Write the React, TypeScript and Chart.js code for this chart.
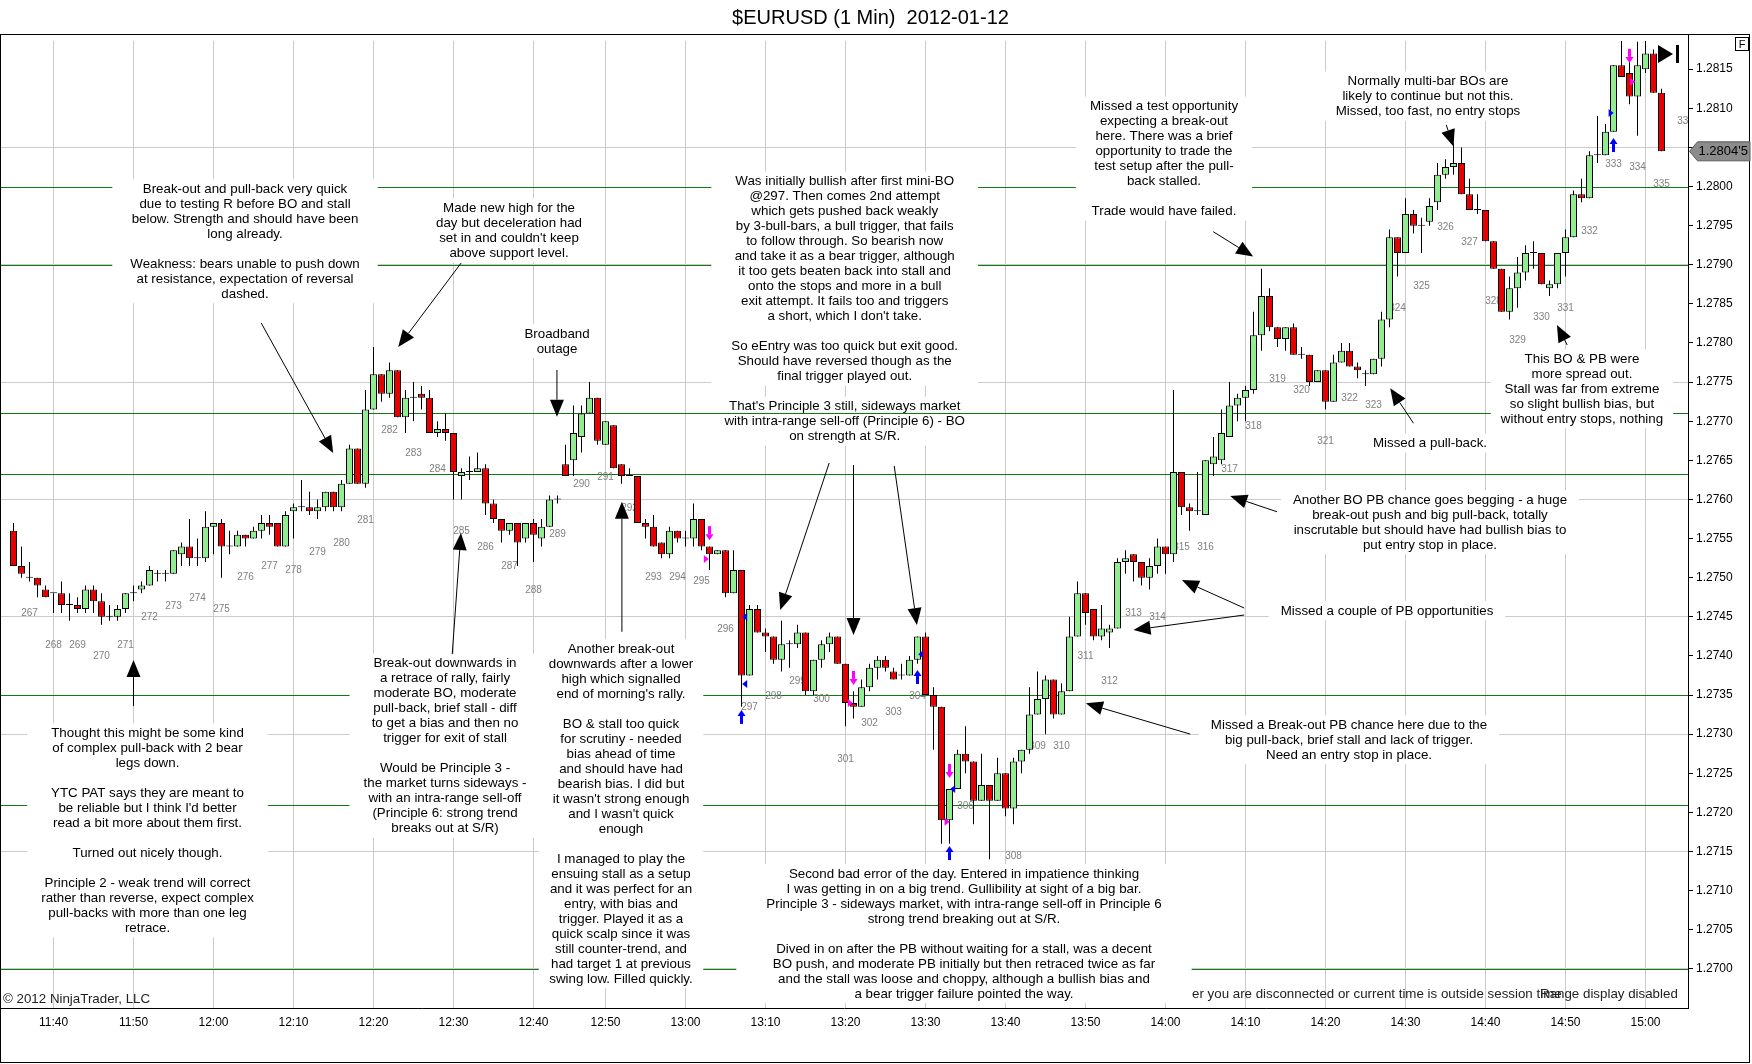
import React, { useEffect, useRef } from 'react';
import { Chart, registerables } from 'chart.js';

Chart.register(...registerables);

const FONT = '"Liberation Sans", Arial, Helvetica, sans-serif';
const TITLE = '$EURUSD (1 Min)  2012-01-12';

const PRICE_BASE = 1.27;

// one-minute bars, 11:35 .. 15:02 (one minute missing during the broadband outage)
const opens = [56,51.5,50,50,48.5,48,48,46.5,46.5,46,
48.5,47,45,45,46,48,48.5,49,50.5,50.5,
50.5,53,54,52.5,52.5,56.5,57,54,54,55.5,
55,56,57,57,54,58.5,59,59,58.5,59,
61,59,62,66.5,62,71.5,76,73.5,76.5,70.5,
73,73.5,73,68.5,69,68.5,63,63.5,63.5,64,
59.5,57.5,56,57,55,57,55,56.5,60,64.5,
65,68,71,73,67,69.5,64.5,63,63,57,
56.5,54.5,53,56,55,55,57.5,54,53,53.5,
48,51,37.5,46,43,42.5,39.5,41.5,41.5,43,
35.5,39.5,41.5,42.5,39,34,33.5,36,38.5,39.5,
38,37.5,37.5,39.5,42.5,35,33.5,19,23,27.5,
26.5,21.5,23.5,21.5,25,20.5,26.5,28,32.5,34.5,
37,32.5,35.5,42.5,48,46,42.5,43,43.5,52,
53,52,50,51.5,54,53,63.5,59,58.5,58,
64.5,65,68,72,73,74,81,86,82,80.5,
82,78.5,78.5,75,76.5,72.5,77.5,79,77,76,
76,78,83,93.5,91.5,96.5,95,95.5,98,101.5,
102.5,103,99,97,97,93,89.5,84,87,89,
91.5,91.5,87,87.5,91.5,93.5,99,98.5,104,104,
107,115.5,114.5,111.5,115,117,112];

const highs = [57,54,52,50,49,48,49.5,48,47.5,49,
49,48,46.5,46.5,48,49,49.5,51.5,51,51,
53.5,54.5,57.5,55,58.5,57,57.5,56,56,55.5,
56.5,58,58,57,58.5,59.5,62.5,61,60,61,
61,62.5,67,66.5,74,79.5,76,77.5,76.5,74,
75,74.5,74,70,71,68.5,64,65.5,66,64.5,
60,57.5,57,57,57,57.5,57.5,60.5,60.5,67,
72,72,75,73,70,69.5,64.5,64,63,57.5,
58,54.5,56.5,56,56,59.5,57.5,54,53.5,53.5,
53.5,51,46.5,46.5,43.5,42.5,44.5,42,44,43,
39.5,42,43,42.5,39,35.5,37,39,40,40,
38.5,39,40,42.5,43,36,33.5,23,28,31,
26.5,27.5,23.5,27,25,27,28,36,38,37.5,
37,36.5,45,49.5,48,46,46.5,44,52.5,53.5,
53,52,52.5,55,54,74,63.5,59.5,63.5,65,
68,71.5,75,73.5,74.5,84,89.5,87,82,82,
82.5,79.5,78.5,76.5,76.5,78.5,80,80,77.5,76.5,
78,84,94.5,93.5,98.5,97,96,98.5,103,103.5,
105.5,105,101,99,97,93,89.5,88.5,91,92.5,
93,91.5,88,91.5,94.5,99.5,101,104.5,109,108,
115.5,119,116,118.5,119,117.5,112.5];

const lows = [51.5,50,49.5,47.5,47.5,45.5,45.5,44.5,45.5,45.5,
45.5,44,44.5,44.5,45.5,47,48,49,49.5,49.5,
50.5,51.5,51.5,51.5,52,53,50,53,54,54,
55,55,55.5,54,54,55,58.5,58,57.5,58.5,
58.5,58.5,62,62,61.5,71.5,72.5,73,70.5,68.5,
70,71.5,68.5,68,67.5,60,60,62.5,63.5,58,
57,54.5,55.5,51.5,54.5,52,54,56.5,59.5,63,
63,66,71,67,67,64,62,63,57,55,
54,52.5,52.5,54.5,54,54,53.5,51,53,47.5,
48,33.5,37.5,43,40.5,39,38,38.5,41,35,
35,38.5,40.5,39,31,32,33.5,35.5,37,38,
37,37,37.5,39,35,28,16,16,23,25,
18.5,21.5,14,21.5,19.5,18.5,25,27.5,32.5,30,
32,32.5,35.5,42.5,44,42,42,41,43.5,50.5,
49.5,49,48.5,50.5,50.5,52,58,56,58,58,
63,64.5,68,70,70,73.5,79,81.5,79.5,79,
78.5,78,74.5,75,71.5,72.5,77.5,77,75.5,74.5,
76,77,82,88.5,91.5,94,91.5,95,97,101,
101.5,99,97,96.5,93,89.5,84,83,84.5,88,
89.5,87.5,86,87,88.5,93.5,98,98.5,103,104,
107,114,110.5,106.5,114.5,112,104.5];

const closes = [51.5,50.5,50,49,47.5,48,46.5,46.5,46,48.5,
47,45,45,46,48,48,49,51,50.5,50.5,
53.5,54,52.5,52.5,56.5,57,54,54,55.5,55,
56,57,56.5,54,58,59,59,58.5,59,61,
59,62,66.5,62,71.5,76,73.5,76.5,70.5,73,
73,73,68.5,69,68.5,63.5,63.5,63.5,64,59.5,
57.5,56,57,54.5,57,55.5,56.5,60,60,63,
68.5,71,73,67.5,70,64,63,63,57,56.5,
54,53,56,55,55,57.5,54,53,53.5,48,
51,37.5,46,43,42.5,39.5,41.5,41.5,43,35.5,
39.5,41.5,42.5,39,34,33.5,36,38.5,39.5,38.5,
37,37.5,39.5,42.5,35,33.5,19,23,27.5,26.5,
21.5,23.5,21.5,25,20.5,26.5,28,32.5,34.5,37,
32.5,35.5,42.5,48,45.5,42.5,43.5,43.5,52,52.5,
52,50,51.5,54,53,63.5,59,58.5,58.5,65,
65.5,68.5,72,73,74,81,86,82,80.5,82,
78.5,78.5,75,76.5,72.5,77.5,79,77,76.5,76,
78,83,93.5,91.5,96.5,95,95,97.5,101.5,102.5,
103,99,97,97,93,89.5,84,87,89,91.5,
91.5,87.5,87.5,91.5,93.5,99,98.5,104,104,107,
115.5,114,111.5,115.5,117,112,104.5];

// time axis (bar index -> label)
const timeTickBars = [5, 15, 25, 35, 45, 55, 65, 74, 84, 94, 104, 114, 124, 134, 144, 154, 164, 174, 184, 194, 204];
const timeTickLabels = ['11:40', '11:50', '12:00', '12:10', '12:20', '12:30', '12:40', '12:50', '13:00', '13:10', '13:20',
  '13:30', '13:40', '13:50', '14:00', '14:10', '14:20', '14:30', '14:40', '14:50', '15:00'];

// price axis labels
const priceTicks = [1.2700, 1.2705, 1.2710, 1.2715, 1.2720, 1.2725, 1.2730, 1.2735, 1.2740, 1.2745, 1.2750, 1.2755,
  1.2760, 1.2765, 1.2770, 1.2775, 1.2780, 1.2785, 1.2790, 1.2795, 1.2800, 1.2805, 1.2810, 1.2815];

// horizontal support / resistance lines (green)
const levelPrices = [1.2800, 1.2790, 1.2771, 1.27633, 1.2735, 1.2721, 1.2700];

// bar count labels 267 .. 336 every third bar, price (pips) where each label sits
const firstBarLabel = 267;
const barLabelPips = [45.4, 41.4, 41.4, 39.9, 41.4, 45.0, 46.3, 47.4, 46.0, 50.0,
  51.4, 51.0, 53.3, 54.4, 57.4, 68.9, 65.9, 63.9, 56.0, 53.9,
  51.4, 48.4, 55.5, 62.0, 62.9, 58.9, 50.0, 50.0, 49.5, 43.4,
  33.5, 34.9, 36.8, 34.5, 26.8, 31.4, 32.8, 34.9, 12.2, 20.8,
  11.3, 14.4, 28.4, 28.4, 39.9, 36.8, 45.5, 45.0, 53.9, 53.9,
  63.9, 69.4, 75.4, 74.0, 67.4, 73.0, 72.0, 84.5, 87.3, 94.8,
  92.9, 85.3, 80.3, 83.3, 84.5, 94.3, 102.9, 102.4, 100.3, 108.3];

// trade markers
const entryArrowBars = [91, 113, 117, 200];
const entryArrowPips = [33.1, 38.2, 15.7, 106.2];
const exitArrowBars = [87, 105, 117, 202];
const exitArrowPips = [54.8, 36.3, 24.4, 115.8];
const fillMarkX = [86.6, 104.6, 116.7, 202.4, 91.4, 91.4, 113.4, 117.4, 199.7];
const fillMarkPips = [52.4, 34.0, 18.8, 113.4, 45.0, 36.4, 40.2, 23.0, 109.4];
const fillMarkKind = ['sell', 'sell', 'sell', 'sell', 'buy', 'buy', 'buy', 'buy', 'buyR'];

// text notes: anchor = centre x (bar units) and first line (pips)
const notes = [
  { x: 28.94, p: 99.66, pad: 18, lines: ['Break-out and pull-back very quick', 'due to testing R before BO and stall', 'below. Strength and should have been', 'long already.', '', 'Weakness: bears unable to push down', 'at resistance, expectation of reversal', 'dashed.'] },
  { x: 61.94, p: 97.23, pad: 14, lines: ['Made new high for the', 'day but deceleration had', "set in and couldn't keep", 'above support level.'] },
  { x: 67.94, p: 81.12, pad: 10, lines: ['Broadband', 'outage'] },
  { x: 103.9, p: 100.63, pad: 20, lines: ['Was initially bullish after first mini-BO', '@297. Then comes 2nd attempt', 'which gets pushed back weakly', 'by 3-bull-bars, a bull trigger, that fails', 'to follow through. So bearish now', 'and take it as a bear trigger, although', 'it too gets beaten back into stall and', 'onto the stops and more in a bull', 'exit attempt. It fails too and triggers', "a short, which I don't take.", '', 'So eEntry was too quick but exit good.', 'Should have reversed though as the', 'final trigger played out.'] },
  { x: 103.9, p: 71.86, pad: 20, under: true, lines: ["That's Principle 3 still, sideways market", 'with intra-range sell-off (Principle 6) - BO', 'on strength at S/R.'] },
  { x: 143.81, p: 110.22, pad: 14, lines: ['Missed a test opportunity', 'expecting a break-out', 'here. There was a brief', 'opportunity to trade the', 'test setup after the pull-', 'back stalled.', '', 'Trade would have failed.'] },
  { x: 176.81, p: 113.41, pad: 12, lines: ['Normally multi-bar BOs are', 'likely to continue but not this.', 'Missed, too fast, no entry stops'] },
  { x: 196.06, p: 77.92, pad: 10, lines: ['This BO & PB were', 'more spread out.', 'Stall was far from extreme', 'so slight bullish bias, but', 'without entry stops, nothing'] },
  { x: 177.06, p: 67.15, pad: 12, lines: ['Missed a pull-back.'] },
  { x: 177.06, p: 59.93, pad: 12, lines: ['Another BO PB chance goes begging - a huge', 'break-out push and big pull-back, totally', 'inscrutable but should have had bullish bias to', 'put entry stop in place.'] },
  { x: 171.69, p: 45.74, pad: 12, lines: ['Missed a couple of PB opportunities'] },
  { x: 166.94, p: 31.16, pad: 12, lines: ['Missed a Break-out PB chance here due to the', 'big pull-back, brief stall and lack of trigger.', 'Need an entry stop in place.'] },
  { x: 16.75, p: 30.14, pad: 14, lines: ['Thought this might be some kind', 'of complex pull-back with 2 bear', 'legs down.', '', 'YTC PAT says they are meant to', "be reliable but I think I'd better", 'read a bit more about them first.', '', 'Turned out nicely though.', '', 'Principle 2 - weak trend will correct', 'rather than reverse, expect complex', 'pull-backs with more than one leg', 'retrace.'] },
  { x: 53.94, p: 39.0, pad: 14, lines: ['Break-out downwards in', 'a retrace of rally, fairly', 'moderate BO, moderate', 'pull-back, brief stall - diff', 'to get a bias and then no', 'trigger for exit of stall', '', 'Would be Principle 3 -', 'the market turns sideways -', 'with an intra-range sell-off', '(Principle 6: strong trend', 'breaks out at S/R)'] },
  { x: 75.94, p: 40.84, pad: 10, lines: ['Another break-out', 'downwards after a lower', 'high which signalled', "end of morning's rally.", '', 'BO & stall too quick', 'for scrutiny - needed', 'bias ahead of time', 'and should have had', 'bearish bias. I did but', "it wasn't strong enough", "and I wasn't quick", 'enough', '', 'I managed to play the', 'ensuing stall as a setup', 'and it was perfect for an', 'entry, with bias and', 'trigger. Played it as a', 'quick scalp since it was', 'still counter-trend, and', 'had target 1 at previous', 'swing low. Filled quickly.'] },
  { x: 118.81, p: 12.11, pad: 30, lines: ['Second bad error of the day. Entered in impatience thinking', 'I was getting in on a big trend. Gullibility at sight of a big bar.', 'Principle 3 - sideways market, with intra-range sell-off in Principle 6', 'strong trend breaking out at S/R.', '', 'Dived in on after the PB without waiting for a stall, was a decent', 'BO push, and moderate PB initially but then retraced twice as far', 'and the stall was loose and choppy, although a bullish bias and', 'a bear trigger failure pointed the way.'] },
];

// pointer arrows: tail (x, pips) -> tip (x, pips)
const pointers = [
  [30.96, 82.56, 39.96, 65.94],
  [55.96, 90.23, 48.09, 79.49],
  [67.93, 76.55, 67.93, 70.58],
  [101.96, 64.66, 95.84, 45.86],
  [105.0, 64.4, 105.0, 42.67],
  [110.09, 64.28, 112.93, 43.95],
  [149.96, 94.23, 154.96, 91.04],
  [179.09, 107.88, 180.0, 105.1],
  [194.21, 79.75, 192.93, 82.31],
  [175.0, 69.74, 172.09, 74.21],
  [157.93, 58.43, 152.09, 60.44],
  [153.84, 46.12, 146.05, 49.7],
  [153.84, 45.23, 140.0, 43.31],
  [147.09, 30.01, 134.05, 33.94],
  [15.0, 33.59, 15.0, 39.47],
  [54.84, 40.24, 55.93, 55.71],
  [76.05, 43.09, 76.05, 59.71],
];

const UP = '#90ee90';
const DOWN = '#e60000';
const GRID = '#cbcbcb';
const LINE_H = 15;
const NOTE_FONT = '13.33px ' + FONT;

const toPrice = (p: number) => PRICE_BASE + p / 10000;

function drawArrowLine(ctx: CanvasRenderingContext2D, x1: number, y1: number, x2: number, y2: number) {
  const ang = Math.atan2(y2 - y1, x2 - x1);
  const L = 17;
  const W = 7;
  const bx = x2 - L * Math.cos(ang);
  const by = y2 - L * Math.sin(ang);
  ctx.beginPath();
  ctx.moveTo(x1, y1);
  ctx.lineTo(bx, by);
  ctx.stroke();
  ctx.beginPath();
  ctx.moveTo(x2, y2);
  ctx.lineTo(bx + W * Math.sin(ang), by - W * Math.cos(ang));
  ctx.lineTo(bx - W * Math.sin(ang), by + W * Math.cos(ang));
  ctx.closePath();
  ctx.fill();
}

const annotationPlugin = {
  id: 'annotations',
  beforeDatasetsDraw(chart: any) {
    const { ctx, chartArea: ca } = chart;
    const xs = chart.scales.x;
    const ys = chart.scales.y;
    const X = (v: number) => xs.getPixelForValue(v);
    const Y = (p: number) => ys.getPixelForValue(toPrice(p));

    const drawNote = (n: any) => {
      ctx.font = NOTE_FONT;
      const cx = X(n.x);
      const top = Y(n.p);
      let w = 0;
      n.lines.forEach((l: string) => { w = Math.max(w, ctx.measureText(l).width); });
      const last = top + (n.lines.length - 1) * LINE_H;
      ctx.fillStyle = '#ffffff';
      ctx.fillRect(cx - w / 2 - n.pad, top - 10, w + 2 * n.pad, last - top + 19);
      ctx.fillStyle = '#000000';
      ctx.textAlign = 'center';
      ctx.textBaseline = 'middle';
      n.lines.forEach((l: string, k: number) => ctx.fillText(l, cx, top + k * LINE_H));
    };

    ctx.save();
    ctx.beginPath();
    ctx.rect(ca.left, ca.top, ca.right - ca.left, ca.bottom - ca.top);
    ctx.clip();

    notes.filter((n: any) => n.under).forEach(drawNote);

    // green level lines
    ctx.strokeStyle = '#117a11';
    ctx.lineWidth = 1;
    levelPrices.forEach((lp) => {
      const py = Math.round(ys.getPixelForValue(lp)) + 0.5;
      ctx.beginPath();
      ctx.moveTo(ca.left, py);
      ctx.lineTo(ca.right, py);
      ctx.stroke();
    });

    // status texts
    ctx.font = NOTE_FONT;
    ctx.textBaseline = 'middle';
    ctx.textAlign = 'left';
    ctx.fillStyle = '#222';
    ctx.fillText('\u00A9 2012 NinjaTrader, LLC', 3, 999);
    ctx.fillText('er you are disconnected or current time is outside session time', 1192, 994);
    ctx.fillText('Range display disabled', 1540, 994);

    // bar count labels
    ctx.font = '10px ' + FONT;
    ctx.fillStyle = '#808080';
    ctx.textAlign = 'center';
    barLabelPips.forEach((p, k) => {
      ctx.fillText(String(firstBarLabel + k), X(2 + 3 * k), Y(p));
    });

    notes.filter((n: any) => !n.under).forEach(drawNote);

    // pointer arrows
    ctx.strokeStyle = '#000';
    ctx.fillStyle = '#000';
    ctx.lineWidth = 1;
    pointers.forEach((a) => drawArrowLine(ctx, X(a[0]), Y(a[1]), X(a[2]), Y(a[3])));
    ctx.restore();
  },
  afterDatasetsDraw(chart: any) {
    const { ctx } = chart;
    const xs = chart.scales.x;
    const ys = chart.scales.y;
    const X = (v: number) => xs.getPixelForValue(v);
    const Y = (p: number) => ys.getPixelForValue(toPrice(p));
    ctx.save();
    // entry arrows (blue, up)
    ctx.fillStyle = '#0000ff';
    entryArrowBars.forEach((b, k) => {
      const x = X(b);
      const y = Y(entryArrowPips[k]);
      ctx.beginPath();
      ctx.moveTo(x, y);
      ctx.lineTo(x + 4, y + 6);
      ctx.lineTo(x - 4, y + 6);
      ctx.closePath();
      ctx.fill();
      ctx.fillRect(x - 1.5, y + 6, 3, 8);
    });
    // exit arrows (magenta, down)
    ctx.fillStyle = '#ff00ff';
    exitArrowBars.forEach((b, k) => {
      const x = X(b);
      const y = Y(exitArrowPips[k]);
      ctx.beginPath();
      ctx.moveTo(x, y);
      ctx.lineTo(x + 4, y - 6);
      ctx.lineTo(x - 4, y - 6);
      ctx.closePath();
      ctx.fill();
      ctx.fillRect(x - 1.5, y - 14, 3, 8);
    });
    // fill markers
    fillMarkX.forEach((bx, k) => {
      const x = X(bx);
      const y = Y(fillMarkPips[k]);
      const kind = fillMarkKind[k];
      ctx.fillStyle = kind === 'sell' ? '#ff00ff' : '#0000ff';
      ctx.beginPath();
      if (kind === 'buy') {
        ctx.moveTo(x - 2.5, y);
        ctx.lineTo(x + 2.5, y - 4);
        ctx.lineTo(x + 2.5, y + 4);
      } else {
        ctx.moveTo(x + 2.5, y);
        ctx.lineTo(x - 2.5, y - 4);
        ctx.lineTo(x - 2.5, y + 4);
      }
      ctx.closePath();
      ctx.fill();
    });
    ctx.restore();
  },
  afterDraw(chart: any) {
    const { ctx, chartArea: ca } = chart;
    const ys = chart.scales.y;
    ctx.save();
    // title
    ctx.fillStyle = '#000';
    ctx.font = '20px ' + FONT;
    ctx.textAlign = 'center';
    ctx.textBaseline = 'alphabetic';
    ctx.fillText(TITLE, 870.5, 23.5);
    // frame
    ctx.strokeStyle = '#000';
    ctx.lineWidth = 1;
    ctx.strokeRect(0.5, 34.5, 1749, 1028);
    const ax = Math.round(ca.right) + 0.5;
    ctx.beginPath();
    ctx.moveTo(ax, 34.5);
    ctx.lineTo(ax, ca.bottom);
    ctx.stroke();
    // F box
    ctx.strokeRect(1735.5, 37.5, 13, 13);
    ctx.font = '11px ' + FONT;
    ctx.textBaseline = 'middle';
    ctx.fillText('F', 1742, 44.5);
    // last price tag
    const lastPips = closes[closes.length - 1];
    const py = ys.getPixelForValue(toPrice(lastPips));
    ctx.beginPath();
    ctx.moveTo(ax + 1, py);
    ctx.lineTo(ax + 9, py - 9.5);
    ctx.lineTo(1750, py - 9.5);
    ctx.lineTo(1750, py + 9.5);
    ctx.lineTo(ax + 9, py + 9.5);
    ctx.closePath();
    ctx.fillStyle = '#8c8c8c';
    ctx.fill();
    ctx.strokeStyle = '#5a5a5a';
    ctx.stroke();
    const s = toPrice(lastPips).toFixed(5);
    ctx.fillStyle = '#000';
    ctx.font = '13px ' + FONT;
    ctx.textAlign = 'left';
    ctx.fillText(s.slice(0, 6) + "'" + s.slice(6), ax + 10, py + 0.5);
    // play marker
    ctx.beginPath();
    ctx.moveTo(1658, 45);
    ctx.lineTo(1673, 54);
    ctx.lineTo(1658, 63);
    ctx.closePath();
    ctx.fill();
    ctx.fillRect(1676, 45, 3, 18);
    ctx.restore();
  },
};

export default function App() {
  const ref = useRef<HTMLCanvasElement | null>(null);
  useEffect(() => {
    document.body.style.margin = '0';
    if (!ref.current) return;
    Chart.defaults.font.family = FONT;
    const bodies = opens.map((o, i) => ({ x: i, y: [toPrice(o), toPrice(closes[i])] }));
    const wicks = lows.map((l, i) => ({ x: i, y: [toPrice(l), toPrice(highs[i])] }));
    const chart = new Chart(ref.current, {
      type: 'bar',
      data: {
        datasets: [
          {
            label: 'body',
            data: bodies as any,
            order: 0,
            grouped: false,
            barThickness: 7,
            minBarLength: 1,
            borderWidth: 1,
            borderSkipped: false,
            borderColor: '#000',
            inflateAmount: 0,
            backgroundColor: (c: any) => {
              const i = c.dataIndex;
              if (closes[i] > opens[i]) return UP;
              if (closes[i] < opens[i]) return DOWN;
              return '#000';
            },
          } as any,
          {
            label: 'wick',
            data: wicks as any,
            order: 1,
            grouped: false,
            barThickness: 1,
            borderWidth: 0,
            inflateAmount: 0,
            backgroundColor: '#000',
          } as any,
        ],
      },
      options: {
        responsive: false,
        animation: false,
        devicePixelRatio: 1,
        events: [],
        layout: { padding: { top: 41, left: 0, right: 0, bottom: 0 } },
        plugins: { legend: { display: false }, tooltip: { enabled: false }, title: { display: false } },
        scales: {
          x: {
            type: 'linear',
            min: -1.6875,
            max: 209.3125,
            offset: false,
            afterFit: (s: any) => { s.height = 56; },
            afterBuildTicks: (s: any) => { s.ticks = timeTickBars.map((v) => ({ value: v })); },
            ticks: {
              autoSkip: false,
              maxRotation: 0,
              padding: 7,
              color: '#000',
              font: { size: 12, family: FONT },
              callback: (v: any) => {
                const k = timeTickBars.indexOf(Number(v));
                return k >= 0 ? timeTickLabels[k] : '';
              },
            },
            grid: { color: GRID, drawTicks: false, offset: false },
            border: { color: '#000' },
          },
          y: {
            type: 'linear',
            position: 'right',
            min: 1.2695,
            max: 1.28186,
            afterFit: (s: any) => { s.width = 64; },
            afterBuildTicks: (s: any) => { s.ticks = priceTicks.map((v) => ({ value: v })); },
            ticks: {
              padding: 3,
              color: '#000',
              font: { size: 12, family: FONT },
              callback: (v: any) => Number(v).toFixed(4),
            },
            grid: {
              color: (c: any) => {
                const v = c.tick ? c.tick.value : null;
                if (v == null) return 'rgba(0,0,0,0)';
                const k = Math.round((v - 1.27) / 0.0005);
                return k % 3 === 0 ? GRID : 'rgba(0,0,0,0)';
              },
              tickColor: '#000',
              tickLength: 5,
              drawTicks: true,
            },
            border: { color: '#000' },
          },
        },
      } as any,
      plugins: [annotationPlugin],
    });
    return () => chart.destroy();
  }, []);
  return (
    <div style={{ width: 1752, height: 1064, background: '#fff' }}>
      <canvas ref={ref} width={1752} height={1064} style={{ display: 'block', width: 1752, height: 1064 }} />
    </div>
  );
}
